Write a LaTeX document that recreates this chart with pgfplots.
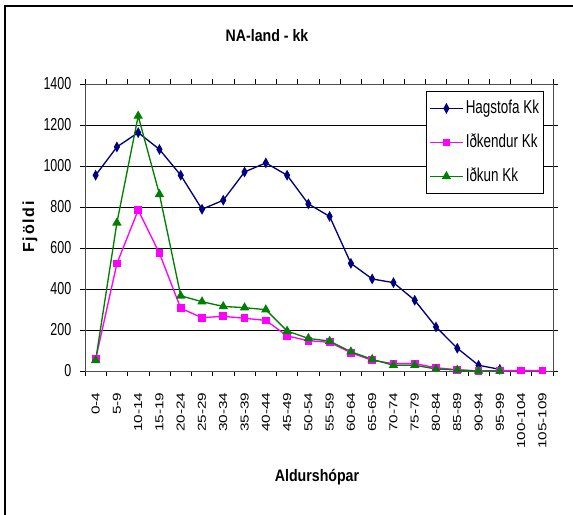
\documentclass[border=0pt]{standalone}
\usepackage{pgfplots}
\pgfplotsset{compat=1.18}
\usepackage{graphicx}
\usepackage{fontspec}
\setmainfont{Liberation Sans}[FakeStretch=0.72]
\newfontfamily\plainfont{Liberation Sans}
\newfontfamily\labfont{Liberation Sans}[FakeStretch=0.85]
\newcommand\xl[1]{\scalebox{1}[0.75]{#1}}
\definecolor{hag}{RGB}{0,0,128}
\definecolor{idk}{RGB}{255,0,255}
\definecolor{idu}{RGB}{0,128,0}
\begin{document}
\begin{tikzpicture}
\useasboundingbox (-63.75pt,-107.25pt) rectangle (366pt,278.25pt);
\draw[line width=1.2pt] (-60pt,-110pt) -- (-60pt,273.75pt) -- (370pt,273.75pt);
\begin{axis}[
  at={(0,0)}, anchor=south west,
  scale only axis, width=351pt, height=215.25pt,
  xmin=-0.5, xmax=21.5, ymin=0, ymax=1400,
  ytick={0,200,...,1400},
  xtick={0,...,21},
  xticklabels={\xl{0-4},\xl{5-9},\xl{10-14},\xl{15-19},\xl{20-24},\xl{25-29},\xl{30-34},\xl{35-39},\xl{40-44},\xl{45-49},\xl{50-54},\xl{55-59},\xl{60-64},\xl{65-69},\xl{70-74},\xl{75-79},\xl{80-84},\xl{85-89},\xl{90-94},\xl{95-99},\xl{100-104},\xl{105-109}},
  minor xtick={-0.5,0.5,...,21.5},
  major x tick style={draw=none},
  minor x tick style={black, thin},
  y tick style={black, thin},
  tick align=outside,
  major tick length=3.75pt, minor tick length=3.75pt,
  xticklabel style={rotate=90, anchor=east, font=\plainfont\fontsize{11.5}{13}\selectfont, xshift=-9pt},
  yticklabel style={font=\fontsize{13}{15}\selectfont, xshift=-3pt},
  /pgf/number format/assume math mode=true,
  /pgf/number format/1000 sep={},
  ymajorgrids, grid style={black, line width=0.5pt},
  axis line style={draw=gray!60!black, line width=0.6pt},
  legend style={at={(0.7286,0.9756)}, anchor=north west, draw=black, fill=white,
     font=\fontsize{14}{16}\selectfont, row sep=12.5pt, inner xsep=2pt, inner ysep=6.25pt,
     line width=0.6pt,
     nodes={inner ysep=0pt, inner xsep=1.5pt, text height=10pt, text depth=3pt}},
  legend cell align=left,
  legend image code/.code={\draw[mark repeat=2,mark phase=2,#1] plot coordinates {(0cm,0cm) (0.44cm,0cm) (0.88cm,0cm)};},
  clip=false,
]
\addplot[color=hag, line width=1pt, mark=diamond*, mark options={scale=1.55, xscale=0.75, fill=hag}]
coordinates {(0,955)(1,1093)(2,1163)(3,1081)(4,955)(5,789)(6,833)(7,971)(8,1015)(9,955)(10,815)(11,754)(12,525)(13,449)(14,431)(15,345)(16,215)(17,111)(18,28)(19,8)};
\addlegendentry{Hagstofa Kk}
\addplot[color=idk, line width=1pt, mark=square*, mark options={scale=1.2, fill=idk}]
coordinates {(0,57)(1,524)(2,785)(3,574)(4,306)(5,260)(6,267)(7,257)(8,247)(9,171)(10,148)(11,140)(12,89)(13,52)(14,36)(15,36)(16,16)(17,6)(18,0)(19,2)(20,2)(21,2)};
\addlegendentry{Iðkendur Kk}
\addplot[color=idu, line width=1pt, mark=triangle*, mark options={scale=1.55, fill=idu}]
coordinates {(0,52)(1,723)(2,1244)(3,862)(4,367)(5,338)(6,315)(7,309)(8,299)(9,195)(10,159)(11,146)(12,94)(13,57)(14,28)(15,28)(16,10)(17,5)(18,0)(19,0)};
\addlegendentry{Iðkun Kk}
\end{axis}
\node[font=\labfont\bfseries\fontsize{12.5}{14}\selectfont] at (136.5pt,251.25pt) {NA-land - kk};
\node[font=\plainfont\bfseries\fontsize{12}{14}\selectfont, rotate=90] at (-41.25pt,108pt) {F\hspace{1.3pt}j\hspace{1.3pt}ö\hspace{1.3pt}l\hspace{1.3pt}d\hspace{1.3pt}i};
\node[font=\labfont\bfseries\fontsize{12.5}{14}\selectfont] at (174pt,-79.5pt) {Aldurshópar};
\end{tikzpicture}
\end{document}
